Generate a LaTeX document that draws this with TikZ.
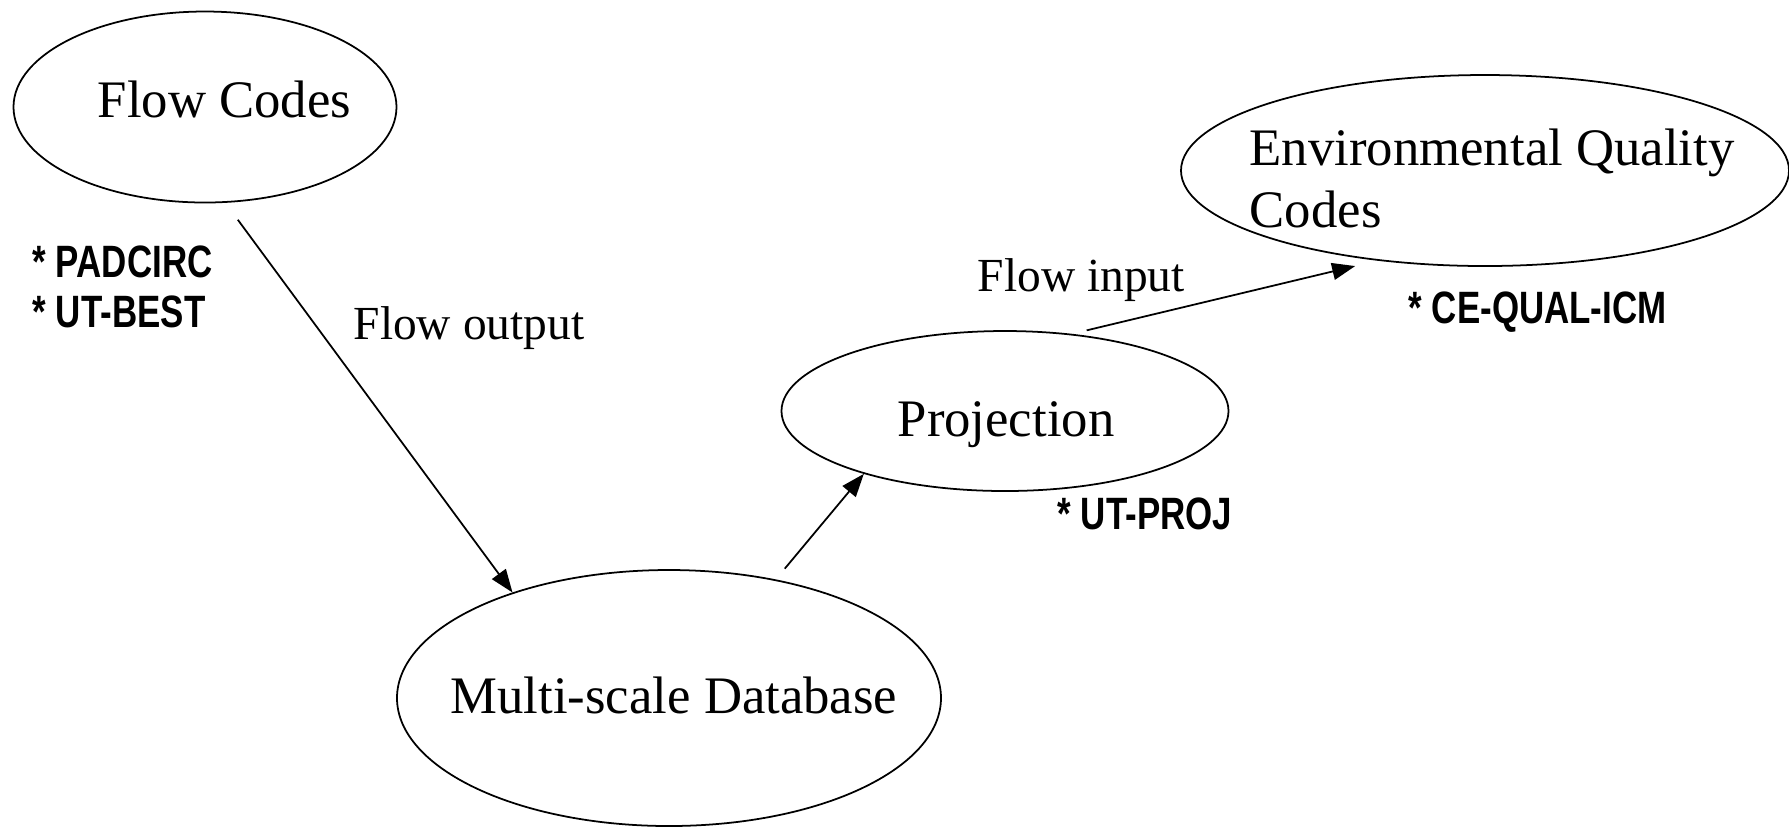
\documentclass[tikz,border=0pt]{standalone}
\usepackage{fontspec}
\setmainfont{Liberation Serif}
\newfontfamily\toolfont[FakeStretch=0.77]{Liberation Sans}
\usetikzlibrary{shapes}
\usetikzlibrary{arrows.meta}
\usetikzlibrary{positioning}

\begin{document}
\begin{tikzpicture}[
    bubble/.style={draw, ellipse, line width=0.5pt, inner sep=0pt},
    caption/.style={anchor=base west, inner sep=0pt, font=\fontsize{15}{17.6}\selectfont},
    flowlabel/.style={anchor=base west, inner sep=0pt, font=\fontsize{13.5}{16}\selectfont},
    tool/.style={anchor=base west, inner sep=0pt, align=left, font=\toolfont\bfseries\fontsize{12.9}{14.2}\selectfont},
    flowarrow/.style={line width=0.5pt, -{Triangle[length=2.3mm, width=1.7mm]}}]
  \useasboundingbox (0,0) rectangle (17.89,-8.27);

  % ellipses
  \node[bubble, minimum width=3.83cm, minimum height=1.91cm] (flow) at (2.05,-1.07) {};
  \node[bubble, minimum width=5.44cm, minimum height=2.56cm] (mdb) at (6.69,-6.98) {};
  \node[bubble, minimum width=4.47cm, minimum height=1.60cm] (proj) at (10.05,-4.11) {};
  \node[bubble, minimum width=6.08cm, minimum height=1.91cm] (eqc) at (14.85,-1.705) {};

  % texts (base of a two-line node is its last line)
  \node[caption] (flowtxt) at (0.97,-1.175) {Flow Codes};
  \node[caption] (mdbtxt) at (4.50,-7.13) {Multi-scale Database};
  \node[caption] (projtxt) at (8.97,-4.36) {Projection};
  \node[caption, align=left] (eqctxt) at (12.49,-2.27) {Environmental Quality\\Codes};
  \node[flowlabel] (outtxt) at (3.53,-3.39) {Flow output};
  \node[flowlabel] (intxt) at (9.77,-2.915) {Flow input};

  \node[tool] (flowtools) at (0.32,-3.27) {* PADCIRC\\* UT-BEST};
  \node[tool] (projtools) at (10.57,-5.29) {* UT-PROJ};
  \node[tool] (eqctools) at (14.08,-3.23) {* CE-QUAL-ICM};

  % arrows
  \draw[flowarrow, shorten <=0.21cm] (flow.-78.7) -- (mdb.146.4);
  \draw[flowarrow, shorten <=0.14cm] (mdb.48.9) -- (proj.204);
  \draw[flowarrow, shorten <=0.15cm, shorten >=0.23cm] (proj.49.6) -- (eqc.220.6);
\end{tikzpicture}
\end{document}
